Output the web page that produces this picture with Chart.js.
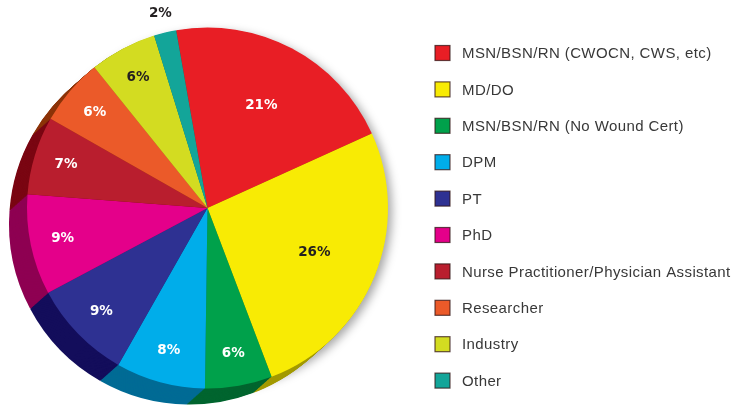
<!DOCTYPE html>
<html>
<head>
<meta charset="utf-8">
<script src="https://cdn.jsdelivr.net/npm/chart.js@4.4.1/dist/chart.umd.min.js"></script>
<style>
    html, body { margin: 0; padding: 0; background: #fff; }
    #wrap { width: 734px; height: 408px; position: relative; }
</style>
</head>
<body>
<div id="wrap"><canvas id="pieChart"></canvas></div>
<script>
/* global Chart, document */
const categories = [
    "MSN/BSN/RN (CWOCN, CWS, etc)",
    "MD/DO",
    "MSN/BSN/RN (No Wound Cert)",
    "DPM",
    "PT",
    "PhD",
    "Nurse Practitioner/Physician Assistant",
    "Researcher",
    "Industry",
    "Other"
];
const shares = [21, 26, 6, 8, 9, 9, 7, 6, 6, 2];
const shareLabels = ["21%", "26%", "6%", "8%", "9%", "9%", "7%", "6%", "6%", "2%"];

const faceColors = ["#e81e25", "#f8eb04", "#00a14b", "#00adea", "#2e3192", "#e4008a", "#b91e2e", "#eb5a29", "#d3dc21", "#13a599"];
const sideColors = ["#8e1015", "#a39a00", "#00652f", "#006b95", "#130d5b", "#8e0052", "#7a0612", "#8c3308", "#8a8f10", "#0b6b63"];
const textColors = ["#fff", "#231f20", "#fff", "#fff", "#fff", "#fff", "#fff", "#fff", "#231f20", "#231f20"];

// darker side of the "3D" disc, drawn as shifted copies of each arc
const sidePlugin = {
    id: "pieSide",
    beforeDatasetsDraw(chart) {
        const ctx = chart.ctx;
        const arcs = chart.getDatasetMeta(0).data;
        const depthX = -18, depthY = 16, steps = 24;
        const first = arcs[0].getProps(["x", "y", "outerRadius"], true);

        ctx.save();
        ctx.shadowColor = "rgba(0,0,0,0.35)";
        ctx.shadowBlur = 10;
        ctx.shadowOffsetX = 5;
        ctx.shadowOffsetY = 3;
        ctx.fillStyle = "#fff";
        ctx.beginPath();
        ctx.arc(first.x, first.y, first.outerRadius - 1, 0, Math.PI * 2);
        ctx.fill();
        ctx.restore();

        ctx.save();
        for (let k = steps; k >= 1; k--) {
            arcs.forEach((arc, i) => {
                const p = arc.getProps(["x", "y", "startAngle", "endAngle", "outerRadius"], true);
                const cx = p.x + depthX * k / steps;
                const cy = p.y + depthY * k / steps;
                ctx.beginPath();
                ctx.moveTo(cx, cy);
                ctx.arc(cx, cy, p.outerRadius, p.startAngle, p.endAngle);
                ctx.closePath();
                ctx.fillStyle = sideColors[i];
                ctx.fill();
            });
        }
        ctx.restore();
    }
};

const labelPlugin = {
    id: "sliceLabels",
    afterDatasetsDraw(chart) {
        const ctx = chart.ctx;
        const arcs = chart.getDatasetMeta(0).data;
        ctx.save();
        ctx.font = "bold 13.5px 'DejaVu Sans'";
        ctx.textAlign = "center";
        ctx.textBaseline = "middle";
        arcs.forEach((arc, i) => {
            const p = arc.getProps(["x", "y", "startAngle", "endAngle", "outerRadius"], true);
            const mid = (p.startAngle + p.endAngle) / 2;
            let f = 0.82;
            if (shares[i] > 15) f = 0.64;
            if (shares[i] < 4) f = 1.11;
            ctx.fillStyle = textColors[i];
            ctx.fillText(shareLabels[i], p.x + Math.cos(mid) * p.outerRadius * f, p.y + Math.sin(mid) * p.outerRadius * f);
        });
        ctx.restore();
    }
};

const legendPlugin = {
    id: "sideLegend",
    afterDraw(chart) {
        const ctx = chart.ctx;
        ctx.save();
        ctx.font = "15px 'Liberation Sans'";
        ctx.letterSpacing = "0.4px";
        ctx.textBaseline = "middle";
        categories.forEach((name, i) => {
            const y = 53 + i * 36.4;
            ctx.fillStyle = faceColors[i];
            ctx.fillRect(435, y - 7.5, 15, 15);
            ctx.strokeStyle = "rgba(50,20,20,0.75)";
            ctx.lineWidth = 1.2;
            ctx.strokeRect(435, y - 7.5, 15, 15);
            ctx.fillStyle = "#383838";
            ctx.fillText(name, 462, y + 1);
        });
        ctx.restore();
    }
};

new Chart(document.getElementById("pieChart").getContext("2d"), {
    type: "pie",
    data: {
        labels: categories,
        datasets: [
            {
                data: shares,
                backgroundColor: faceColors,
                borderWidth: 0,
            }
        ]
    },
    options: {
        responsive: true,
        maintainAspectRatio: false,
        animation: false,
        events: [],
        rotation: -10,
        layout: {
            padding: { left: 27, top: 26, right: 346, bottom: 18 }
        },
        plugins: {
            legend: { display: false },
            tooltip: { enabled: false }
        }
    },
    plugins: [sidePlugin, labelPlugin, legendPlugin]
});
</script>
</body>
</html>
